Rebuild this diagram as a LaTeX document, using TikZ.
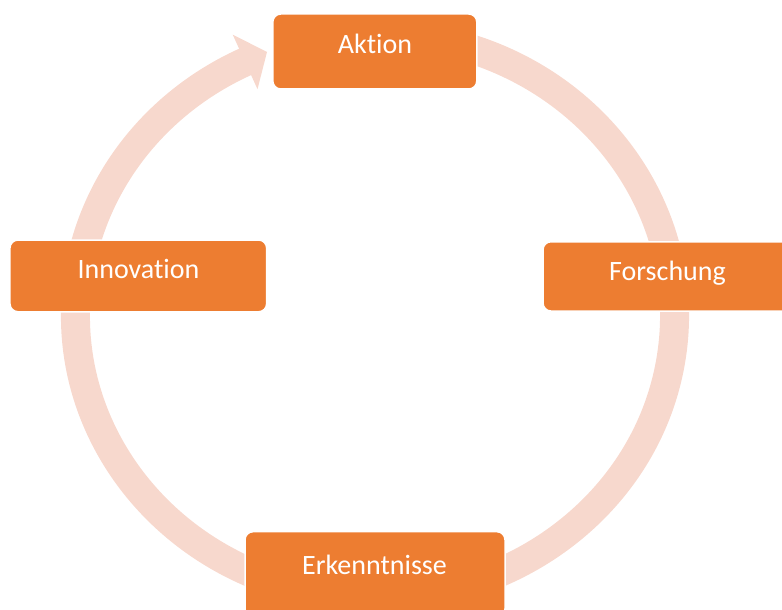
\documentclass[tikz,border=0pt]{standalone}
\usepackage{fontspec}
\setmainfont{Carlito}[Ligatures=NoCommon]
\usetikzlibrary{calc}
\definecolor{accent}{HTML}{ED7D31}
\definecolor{ringtint}{HTML}{F7D8CD}
\tikzset{
  cyclebox/.style={draw=white, line width=1.5pt, fill=accent, rounded corners=8pt,
    inner sep=0pt, outer sep=0pt},
  boxlabel/.style={text=white, anchor=base, inner sep=0pt,
    font=\fontsize{28}{34}\selectfont},
  ringband/.style={draw=ringtint, line width=29pt, line cap=butt},
  ringhead/.style={fill=ringtint, draw=none}
}
\begin{document}
\begin{tikzpicture}[x=1pt, y=-1pt]
  \useasboundingbox (0,0) rectangle (782,610);
  \clip (0,0) rectangle (782,610);

  % circular band running clockwise behind the boxes
  \coordinate (ringc) at (375,316);
  \coordinate (hb) at (245.1,61.9);
  \draw[ringband] ([shift={(-80:299.5 and 282)}]ringc)
     arc[start angle=-80, end angle=245, x radius=299.5, y radius=282];
  % arrow head pointing into the first step
  \fill[ringhead] ($(hb)+(-12.4,-27.3)$) -- ($(hb)+(21.9,-9.9)$)
     -- ($(hb)+(12.4,27.3)$) -- cycle;

  % the four steps
  \node[cyclebox, minimum width=204pt, minimum height=75pt] (aktion) at (374.8,51.5) {};
  \node[cyclebox, minimum width=256.7pt, minimum height=71.7pt] (innovation) at (138.3,275.9) {};
  \node[cyclebox, minimum width=249pt, minimum height=69.3pt] (forschung) at (667.5,276.4) {};
  \node[cyclebox, minimum width=260pt, minimum height=85pt] (erkenntnisse) at (375,574.2) {};

  \node[boxlabel] (taktion) at (375,53.3) {Aktion};
  \node[boxlabel] (tinnovation) at (138.5,278.3) {Innovation};
  \node[boxlabel] (tforschung) at (667.5,280) {Forschung};
  \node[boxlabel] (terkenntnisse) at (374.5,574) {Erkenntnisse};
\end{tikzpicture}
\end{document}
